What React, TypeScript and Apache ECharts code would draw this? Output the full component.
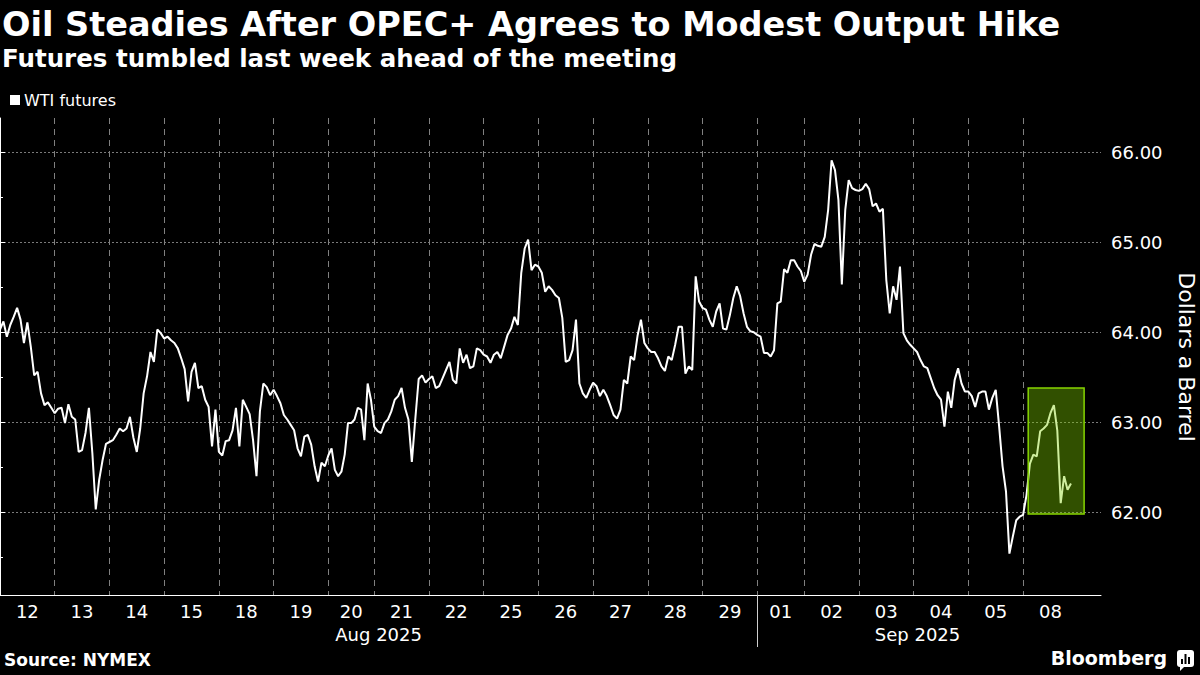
import React, { useEffect, useRef } from "react";
import * as echarts from "echarts";

// ---- data ----
const dayLabels = ["12", "13", "14", "15", "18", "19", "20", "21", "22", "25", "26", "27", "28", "29", "01", "02", "03", "04", "05", "08"];
// trading-session length of each day, hours
const sessionHours = [23, 23, 23, 23, 23, 23, 19.3, 23, 23, 23, 23, 23, 23, 23, 19.75, 23, 23, 23, 23, 23];
const pointsPerFullSession = 16;

const d12 = [64.03, 64.12, 63.95, 64.08, 64.17, 64.27, 64.14, 63.88, 64.11, 63.84, 63.52, 63.56, 63.32, 63.19, 63.22, 63.16];
const d13 = [63.10, 63.15, 63.16, 62.99, 63.20, 63.06, 63.03, 62.67, 62.69, 62.88, 63.16, 62.66, 62.03, 62.36, 62.58, 62.76];
const d14 = [62.78, 62.80, 62.86, 62.93, 62.90, 62.93, 63.06, 62.83, 62.67, 62.93, 63.32, 63.51, 63.78, 63.67, 64.03, 63.99];
const d15 = [63.93, 63.95, 63.91, 63.88, 63.82, 63.71, 63.59, 63.23, 63.56, 63.66, 63.38, 63.40, 63.25, 63.17, 62.73, 63.14];
const d18 = [62.67, 62.63, 62.79, 62.80, 62.91, 63.16, 62.73, 63.25, 63.17, 63.09, 62.80, 62.40, 63.12, 63.43, 63.39, 63.30];
const d19 = [63.36, 63.29, 63.21, 63.08, 63.03, 62.97, 62.91, 62.71, 62.62, 62.84, 62.86, 62.75, 62.51, 62.34, 62.55, 62.51];
const d20 = [62.63, 62.71, 62.47, 62.40, 62.45, 62.64, 62.99, 62.99, 63.03, 63.16, 63.14, 62.80, 63.43, 63.25];
const d21 = [62.95, 62.90, 62.88, 62.99, 63.03, 63.12, 63.25, 63.29, 63.38, 63.16, 63.03, 62.56, 63.03, 63.48, 63.52, 63.44];
const d22 = [63.48, 63.51, 63.38, 63.40, 63.49, 63.58, 63.67, 63.47, 63.43, 63.82, 63.66, 63.75, 63.60, 63.62, 63.82, 63.80];
const d25 = [63.75, 63.73, 63.66, 63.75, 63.78, 63.71, 63.84, 63.97, 64.04, 64.17, 64.08, 64.66, 64.93, 65.03, 64.69, 64.75];
const d26 = [64.73, 64.66, 64.45, 64.51, 64.47, 64.41, 64.38, 64.16, 63.67, 63.69, 63.80, 64.14, 63.43, 63.32, 63.27, 63.36];
const d27 = [63.44, 63.40, 63.29, 63.36, 63.29, 63.19, 63.08, 63.04, 63.14, 63.47, 63.43, 63.73, 63.69, 63.96, 64.14, 63.88];
const d28 = [63.82, 63.78, 63.78, 63.71, 63.62, 63.57, 63.73, 63.69, 63.86, 64.06, 64.06, 63.54, 63.62, 63.58, 64.62, 64.34];
const d29 = [64.27, 64.25, 64.14, 64.06, 64.23, 64.32, 64.04, 64.03, 64.19, 64.38, 64.51, 64.40, 64.21, 64.06, 64.01, 64.00];
const d01 = [63.97, 63.95, 63.77, 63.77, 63.73, 63.80, 64.32, 64.34, 64.70, 64.66, 64.80, 64.80, 64.73, 64.68];
const d02 = [64.56, 64.64, 64.86, 64.98, 64.96, 64.95, 65.06, 65.36, 65.91, 65.80, 65.47, 64.53, 65.36, 65.69, 65.60, 65.58];
const d03 = [65.57, 65.59, 65.65, 65.59, 65.40, 65.43, 65.34, 65.37, 64.58, 64.21, 64.51, 64.36, 64.73, 63.99, 63.91, 63.86];
const d04 = [63.82, 63.78, 63.69, 63.62, 63.60, 63.49, 63.38, 63.30, 63.25, 62.95, 63.34, 63.16, 63.47, 63.60, 63.43, 63.34];
const d05 = [63.34, 63.29, 63.17, 63.32, 63.34, 63.34, 63.14, 63.27, 63.36, 62.95, 62.51, 62.23, 61.54, 61.73, 61.91, 61.95];
const d08 = [61.97, 62.19, 62.54, 62.64, 62.62, 62.90, 62.93, 62.97, 63.10, 63.19, 62.91, 62.10, 62.40, 62.25, 62.32];
const dayValues = [d12, d13, d14, d15, d18, d19, d20, d21, d22, d25, d26, d27, d28, d29, d01, d02, d03, d04, d05, d08];

const monthLabels = ["Aug 2025", "Sep 2025"];
const monthFirstDayIndex = [0, 14];
const yTicks = [62, 63, 64, 65, 66];
const yMinorTicks = [61.5, 62.5, 63.5, 64.5, 65.5];
const yRange = [61.08, 66.38];
const xMaxHours = 462.8;
const highlightHours = [432.2, 455.7];
const highlightPrice = [61.98, 63.38];

const TITLE = "Oil Steadies After OPEC+ Agrees to Modest Output Hike";
const SUBTITLE = "Futures tumbled last week ahead of the meeting";
const SERIES_NAME = "WTI futures";
const Y_NAME = "Dollars a Barrel";
const SOURCE = "Source: NYMEX";

const FONT = "DejaVu Sans";

function buildOption() {
  const starts: number[] = [];
  let acc = 0;
  for (let d = 0; d < sessionHours.length; d++) {
    starts.push(acc);
    acc += sessionHours[d];
  }
  const end = acc;
  const last = dayValues.length - 1;
  const data: number[][] = [];
  dayValues.forEach((vals, d) => {
    const step = d === last ? sessionHours[d] / pointsPerFullSession : sessionHours[d] / vals.length;
    vals.forEach((v, j) => data.push([starts[d] + j * step, v]));
  });
  const boundaries = starts.slice(1);
  const centers = starts.map((s, d) => s + sessionHours[d] / 2);
  const monthStarts = monthFirstDayIndex.map((i) => starts[i]);
  const monthCenters = monthStarts.map((s, i) => (s + (i + 1 < monthStarts.length ? monthStarts[i + 1] : end)) / 2);
  const nearest = (arr: number[], v: number) => {
    let bi = 0;
    arr.forEach((a, i) => {
      if (Math.abs(a - v) < Math.abs(arr[bi] - v)) bi = i;
    });
    return bi;
  };

  return {
    animation: false,
    backgroundColor: "#000",
    textStyle: { fontFamily: FONT },
    grid: { left: 0, right: 99, top: 118, bottom: 80, containLabel: false },
    legend: {
      data: [SERIES_NAME],
      left: 10,
      top: 92,
      padding: 0,
      icon: "rect",
      itemWidth: 10,
      itemHeight: 10,
      itemGap: 5,
      textStyle: { color: "#fff", fontSize: 16, fontFamily: FONT, padding: [0, 0, 0, -1] },
    },
    xAxis: [
      {
        type: "value",
        min: 0,
        max: xMaxHours,
        axisLine: { show: true, lineStyle: { color: "#fff", width: 1 } },
        axisTick: { show: false, customValues: boundaries },
        splitLine: { show: true, lineStyle: { color: "#808080", type: [6, 5], width: 1 } },
        axisLabel: {
          customValues: centers,
          formatter: (v: number) => dayLabels[nearest(centers, v)],
          color: "#fff",
          fontSize: 18,
          fontFamily: FONT,
          margin: 7,
        },
      },
      {
        type: "value",
        min: 0,
        max: xMaxHours,
        position: "bottom",
        axisLine: { show: false },
        axisTick: { show: true, customValues: [monthStarts[1]], length: 52, lineStyle: { color: "#cfcfcf", width: 1 } },
        splitLine: { show: false },
        axisLabel: {
          customValues: monthCenters,
          formatter: (v: number) => monthLabels[nearest(monthCenters, v)],
          color: "#fff",
          fontSize: 18,
          fontFamily: FONT,
          margin: 30,
        },
      },
    ],
    yAxis: [
      {
        type: "value",
        position: "right",
        min: yRange[0],
        max: yRange[1],
        axisLine: { show: true, lineStyle: { color: "#fff", width: 1 } },
        axisTick: { show: true, customValues: yTicks, length: 5, lineStyle: { color: "#fff" } },
        axisLabel: {
          customValues: yTicks,
          formatter: (v: number) => v.toFixed(2),
          color: "#fff",
          fontSize: 18,
          fontFamily: FONT,
          margin: 10,
        },
        splitLine: { show: true, lineStyle: { color: "#7a7a7a", type: [2, 2], width: 1 } },
      },
      {
        type: "value",
        position: "right",
        min: yRange[0],
        max: yRange[1],
        axisLine: { show: false },
        axisTick: { show: true, customValues: yMinorTicks, length: 3, lineStyle: { color: "#fff" } },
        axisLabel: { show: false },
        splitLine: { show: false },
      },
    ],
    series: [
      {
        name: SERIES_NAME,
        type: "line",
        data,
        showSymbol: false,
        symbol: "none",
        lineStyle: { color: "#fff", width: 2 },
        itemStyle: { color: "#fff" },
        z: 2,
      },
      {
        name: "highlight",
        type: "line",
        data: [],
        z: 5,
        silent: true,
        markArea: {
          silent: true,
          z: 10,
          itemStyle: { color: "rgba(130,210,0,0.38)", borderColor: "#86d400", borderWidth: 1.5 },
          data: [[{ coord: [highlightHours[0], highlightPrice[1]] }, { coord: [highlightHours[1], highlightPrice[0]] }]],
        },
      },
    ],
    graphic: [
      { type: "text", left: 2, top: 7, style: { text: TITLE, fill: "#fff", font: `bold 33.5px "${FONT}"` } },
      { type: "text", left: 2, top: 46, style: { text: SUBTITLE, fill: "#fff", font: `bold 24.5px "${FONT}"` } },
      { type: "text", left: 4, top: 651, style: { text: SOURCE, fill: "#fff", font: `bold 17px "${FONT}"` } },
      { type: "text", right: 33, top: 648, style: { text: "Bloomberg", fill: "#fff", font: `bold 19px "${FONT}"` } },
      {
        type: "text",
        x: 1186,
        y: 357,
        rotation: -Math.PI / 2,
        style: { text: Y_NAME, fill: "#fff", font: `22px "${FONT}"`, textAlign: "center", textVerticalAlign: "middle" },
      },
      {
        type: "group",
        x: 1177,
        y: 650,
        children: [
          { type: "rect", shape: { x: 0, y: 0, width: 17, height: 17, r: 3 }, style: { fill: "#fff" } },
          { type: "polygon", shape: { points: [[3, 16], [8, 16], [3, 21]] }, style: { fill: "#fff" } },
          { type: "rect", shape: { x: 4, y: 9, width: 2, height: 5 }, style: { fill: "#000" } },
          { type: "rect", shape: { x: 7.5, y: 4, width: 2, height: 10 }, style: { fill: "#000" } },
          { type: "rect", shape: { x: 11, y: 7, width: 2, height: 7 }, style: { fill: "#000" } },
        ],
      },
    ],
  };
}

export default function App() {
  const ref = useRef<HTMLDivElement>(null);
  useEffect(() => {
    if (!ref.current) return;
    const chart = echarts.init(ref.current, undefined, { renderer: "svg" });
    chart.setOption(buildOption() as any);
    return () => chart.dispose();
  }, []);
  return (
    <div
      ref={ref}
      style={{ position: "absolute", left: 0, top: 0, width: 1200, height: 675, background: "#000" }}
    />
  );
}
